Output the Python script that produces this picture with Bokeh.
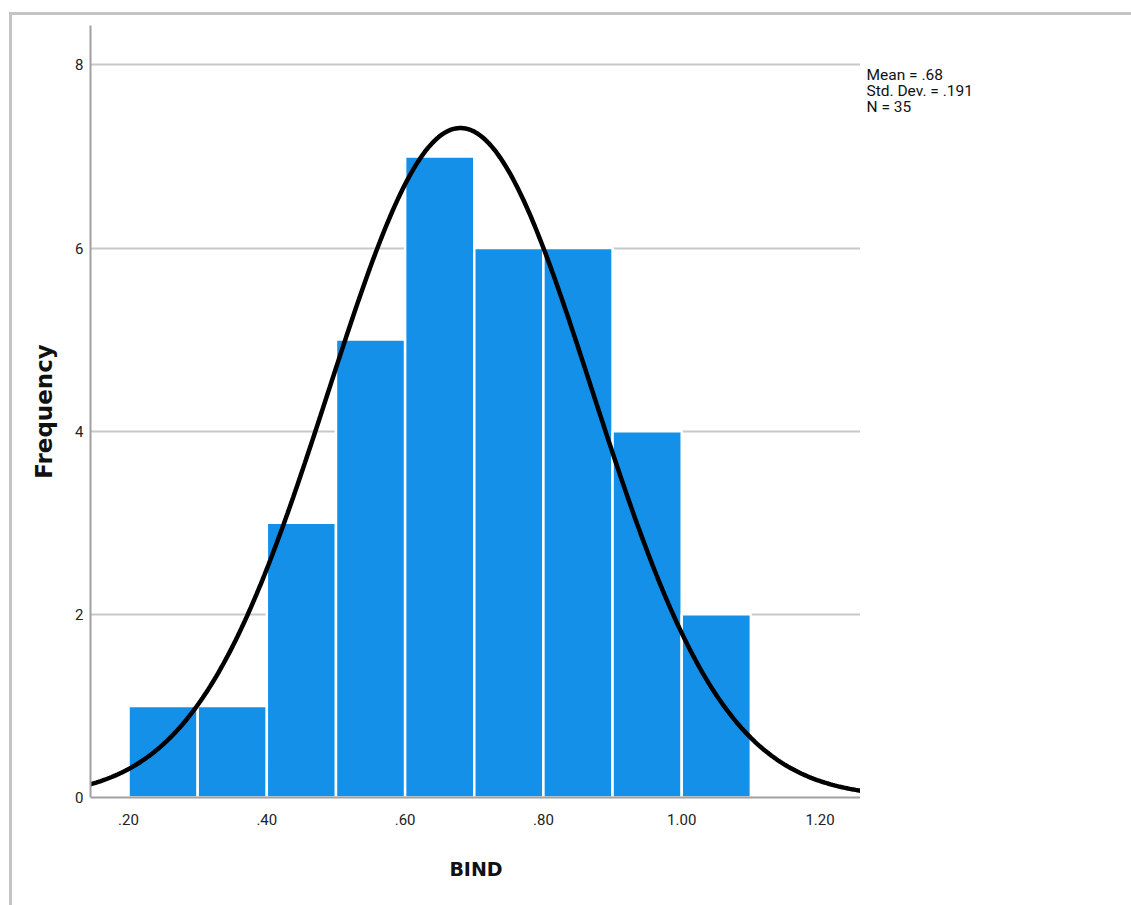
import numpy as np
from bokeh.plotting import figure
from bokeh.layouts import row
from bokeh.models import FixedTicker, Range1d, ColumnDataSource
from bokeh.core.properties import value
from bokeh.embed import file_html
from bokeh.resources import INLINE

# ---- data ----
bin_left = [0.2, 0.3, 0.4, 0.5, 0.6, 0.7, 0.8, 0.9, 1.0]
bin_right = [0.3, 0.4, 0.5, 0.6, 0.7, 0.8, 0.9, 1.0, 1.1]
counts = [1, 1, 3, 5, 7, 6, 6, 4, 2]
mean_val = 0.68
std_val = 0.191
n_val = 35
bin_width = 0.1
x_ticks = [0.2, 0.4, 0.6, 0.8, 1.0, 1.2]
x_tick_labels = [".20", ".40", ".60", ".80", "1.00", "1.20"]
y_ticks = [0, 2, 4, 6, 8]
stats_lines = ["Mean = .68", "Std. Dev. = .191", "N = 35"]

x_lo, x_hi = 0.145, 1.26
y_lo, y_hi = 0, 8.43

TICK_FONT = "Roboto"
BORDER = "3px solid #c4c4c4"
TOP, BOTTOM = 10, 111

p = figure(width=851, height=893, output_backend="svg", toolbar_location=None,
           x_range=Range1d(x_lo, x_hi), y_range=Range1d(y_lo, y_hi),
           min_border_left=78, min_border_right=2, min_border_top=TOP,
           min_border_bottom=BOTTOM, margin=(12, 0, 0, 9))
p.styles = {"border-left": BORDER, "border-top": BORDER}
p.outline_line_color = None
p.background_fill_color = "white"
p.border_fill_color = "white"

# grid
p.xgrid.grid_line_color = None
p.ygrid.grid_line_color = "#c8c8c8"
p.ygrid.grid_line_width = 2
p.ygrid.ticker = FixedTicker(ticks=y_ticks)

# axes
p.xaxis.ticker = FixedTicker(ticks=x_ticks)
p.xaxis.major_label_overrides = {t: l for t, l in zip(x_ticks, x_tick_labels)}
p.yaxis.ticker = FixedTicker(ticks=y_ticks)
for ax in (p.xaxis[0], p.yaxis[0]):
    ax.axis_line_color = "#a0a0a0"
    ax.axis_line_width = 2
    ax.major_tick_line_color = None
    ax.minor_tick_line_color = None
    ax.major_tick_out = 0
    ax.major_tick_in = 0
    ax.minor_tick_out = 0
    ax.major_label_text_font = TICK_FONT
    ax.major_label_text_font_size = "15px"
    ax.major_label_text_color = "#222222"
    ax.axis_label_text_font = "DejaVu Sans"
    ax.axis_label_text_font_style = "bold"
    ax.axis_label_text_color = "#111111"

p.xaxis.axis_label = "BIND"
p.xaxis.axis_label_text_font_size = "19px"
p.xaxis.major_label_standoff = 16
p.xaxis.axis_label_standoff = 30
p.yaxis.axis_label = "Frequency"
p.yaxis.axis_label_text_font_size = "23px"
p.yaxis.major_label_standoff = 7
p.yaxis.axis_label_standoff = 15

# histogram bars
src = ColumnDataSource(dict(left=bin_left, right=bin_right, top=counts,
                            bottom=[0] * len(counts)))
p.quad(left="left", right="right", top="top", bottom="bottom", source=src,
       fill_color="#1490e8", line_color="white", line_width=2.5)

# fitted normal curve
xs = np.linspace(x_lo, x_hi, 400)
ys = n_val * bin_width * np.exp(-0.5 * ((xs - mean_val) / std_val) ** 2) / (std_val * np.sqrt(2 * np.pi))
p.line(xs, ys, line_color="black", line_width=4.5)

# stats panel to the right of the plot
s = figure(width=1131 - 9 - 851, height=893, output_backend="svg", toolbar_location=None,
           x_range=Range1d(0, 1), y_range=Range1d(y_lo, y_hi),
           min_border_left=0, min_border_right=0, min_border_top=TOP,
           min_border_bottom=BOTTOM, margin=(12, 0, 0, 0))
s.styles = {"border-top": BORDER}
s.axis.visible = False
s.grid.visible = False
s.outline_line_color = None
s.text(x=[0] * 3, y=[8.0] * 3, text=stats_lines, x_offset=6,
       y_offset=[1, 17, 33], text_font=value(TICK_FONT), text_font_size="15.5px",
       text_color="#111111", text_baseline="top", text_align="left")

open("out.html", "w").write(file_html(row(p, s), INLINE))
